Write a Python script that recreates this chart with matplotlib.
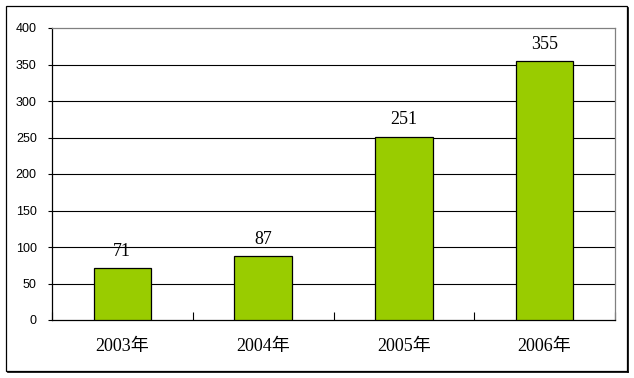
import matplotlib
matplotlib.use('Agg')
import matplotlib.pyplot as plt
from matplotlib.patches import Rectangle
from matplotlib.lines import Line2D
import numpy as np

# 数据
years = ['2003年', '2004年', '2005年', '2006年']
values = [71, 87, 251, 355]
yticks = [0, 50, 100, 150, 200, 250, 300, 350, 400]

W, H = 634, 378
fig = plt.figure(figsize=(W / 100, H / 100), dpi=100)
fig.patch.set_facecolor('white')

# 外框 + 阴影
fig.add_artist(Rectangle((6 / W, 1 - 371 / H), (627 - 6) / W, (371 - 6) / H,
                         transform=fig.transFigure, fill=False, lw=0.9, ec='black'))
fig.add_artist(Line2D([628 / W, 628 / W], [1 - 372 / H, 1 - 8 / H],
                      transform=fig.transFigure, lw=1.2, color='black'))
fig.add_artist(Line2D([8 / W, 628 / W], [1 - 372 / H, 1 - 372 / H],
                      transform=fig.transFigure, lw=1.2, color='black'))

ax = fig.add_axes([52 / W, 1 - 320 / H, (615 - 52) / W, (320 - 28) / H])
x = np.arange(len(years))
bars = ax.bar(x, values, width=0.41, color='#99CC00', edgecolor='black', lw=0.9, zorder=3)

ax.set_xlim(-0.5, len(years) - 0.5)
ax.set_ylim(0, 400)
ax.set_yticks(yticks)
ax.set_yticklabels([str(v) for v in yticks], fontsize=9, family='Liberation Sans')
for v in yticks[1:-1]:
    ax.axhline(v, color='black', lw=0.8, zorder=1)

# x轴: 刻度在类别之间
ax.set_xticks(np.arange(len(years) + 1) - 0.5)
ax.set_xticklabels([])
ax.set_xticks(x, minor=True)
ax.set_xticklabels(years, minor=True, fontsize=13,
                   family=['Liberation Serif', 'Noto Sans CJK SC'])
ax.tick_params(axis='x', which='major', direction='in', length=6, width=0.8)
ax.tick_params(axis='x', which='minor', length=0, pad=13)
ax.tick_params(axis='y', direction='out', length=3, width=0.8, pad=8)

for s in ['top', 'right']:
    ax.spines[s].set_color('#808080')
for s in ['left', 'bottom']:
    ax.spines[s].set_color('black')
for s in ax.spines.values():
    s.set_linewidth(0.9)

for b, v in zip(bars, values):
    ax.annotate(str(v), (b.get_x() + b.get_width() / 2, v), xytext=(0, 6),
                textcoords='offset points', ha='center', va='bottom',
                fontsize=13, family='Liberation Serif')

fig.savefig('out.png', dpi=100)
